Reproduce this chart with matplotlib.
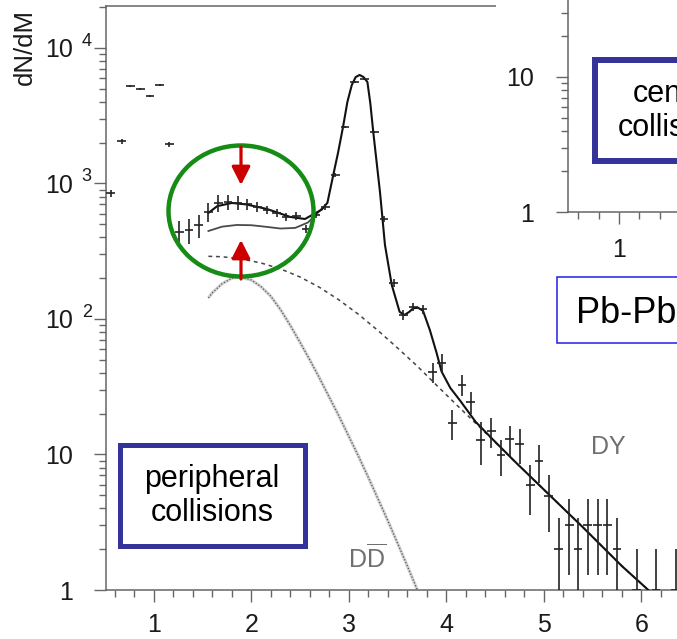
"""
Dimuon invariant mass spectrum, peripheral Pb-Pb collisions,
with the inset corner of the central-collision panel.
"""

import matplotlib
matplotlib.use('Agg')
import matplotlib.pyplot as plt
from matplotlib.patches import Rectangle, Ellipse, FancyArrowPatch
from matplotlib.ticker import FixedLocator, MultipleLocator, LogLocator, NullFormatter

plt.rcParams['font.family'] = ['Liberation Sans', 'DejaVu Sans']
plt.rcParams['mathtext.fontset'] = 'custom'
plt.rcParams['mathtext.rm'] = 'Liberation Sans'

# ─── DATA ─────────────────────────────────────────────────────────────────────
mass = [0.56, 0.67, 0.76, 0.86, 0.96, 1.06, 1.16,
        1.26, 1.36, 1.46, 1.56, 1.66, 1.76, 1.86, 1.96, 2.06, 2.16,
        2.26, 2.36, 2.46, 2.56, 2.66, 2.76, 2.86, 2.96, 3.06, 3.16,
        3.26, 3.36, 3.46, 3.56, 3.66, 3.76, 3.86, 3.95, 4.06, 4.16,
        4.25, 4.35, 4.46, 4.56, 4.65, 4.75, 4.86, 4.95, 5.05, 5.15,
        5.26, 5.35, 5.45, 5.55, 5.65, 5.75, 5.95, 6.15, 6.35]
counts = [850, 2050, 5250, 5000, 4450, 5350, 1950,
          439, 454, 494, 616, 718, 730, 718, 706, 671, 637,
          605, 566, 576, 462, 590, 671, 1155, 2610, 5610, 5900,
          2400, 547, 184, 107, 123, 118, 40.6, 47.3, 17.1, 32.6,
          24.4, 12.8, 14.9, 9.9, 13.0, 11.9, 6.0, 9.0, 4.9, 2.0,
          3.0, 2.0, 3.0, 3.0, 3.0, 2.0, 1.0, 1.0, 1.0]
count_err = [50, 80, 80, 80, 80, 80, 80,
             90, 95, 95, 100, 100, 95, 85, 65, 55, 45,
             40, 40, 35, 30, 30, 30, 35, 60, 90, 90,
             55, 25, 12, 9, 9, 9, 7, 7.5, 4.2, 5.7,
             4.6, 4.5, 3.7, 3.0, 3.2, 3.4, 2.4, 2.8, 2.2, 1.4,
             1.7, 1.4, 1.7, 1.7, 1.7, 1.4, 1.0, 1.0, 1.0]
half_bin = 0.045

# total fit (upper solid curve)
fit_mass = [1.56, 1.65, 1.80, 1.95, 2.16, 2.40, 2.55, 2.65, 2.72, 2.78,
            2.84, 2.89, 2.94, 2.985, 3.03, 3.07, 3.11, 3.15, 3.19, 3.22,
            3.25, 3.32, 3.37, 3.44, 3.52, 3.57, 3.62, 3.66, 3.71, 3.76,
            3.83, 3.90, 3.95, 4.04, 4.14, 4.30, 4.50, 4.70, 5.00, 5.40,
            5.80, 6.07]
fit_total = [606, 680, 718, 700, 648, 566, 547, 600, 640, 720,
             1155, 1700, 2610, 4000, 5330, 6100, 6320, 6100, 5610, 3900,
             2400, 851, 352, 178, 113, 107, 113, 120, 121, 115,
             83, 56, 41, 31, 25, 17.4, 12.4, 8.9, 5.5, 2.9,
             1.5, 1.0]

# expected sources without the excess (lower solid curve)
exp_mass = [1.56, 1.70, 1.85, 2.00, 2.16, 2.30, 2.45, 2.58, 2.66, 2.72]
exp_sum = [446, 480, 494, 492, 478, 465, 470, 515, 585, 650]

# Drell-Yan (dashed)
dy_mass = [1.56, 1.70, 1.90, 2.10, 2.30, 2.50, 2.70, 2.90, 3.10, 3.30,
           3.50, 3.70, 3.90, 4.10, 4.30, 4.50, 4.70, 5.00, 5.40, 5.80, 6.07]
dy_val = [290, 288, 277, 259, 234, 204, 171, 138, 108, 82,
          61, 45, 32.4, 23.4, 17, 12.3, 8.9, 5.5, 2.9, 1.5, 1.0]

# open charm DDbar (dotted)
dd_mass = [1.56, 1.60, 1.70, 1.80, 1.88, 2.00, 2.10, 2.20, 2.30, 2.40, 2.50,
           2.60, 2.70, 2.80, 2.90, 3.00, 3.10, 3.20, 3.30, 3.40, 3.50, 3.60, 3.70]
dd_val = [143, 156, 182, 200, 204, 194, 173, 147, 117, 89.5, 67.1,
          49.8, 36.5, 26.4, 19.1, 13.6, 9.66, 6.76, 4.68, 3.24, 2.21, 1.50, 1.01]

x_ticks = [1, 2, 3, 4, 5, 6]
y_ticks = [1, 10, 100, 1000, 10000]
y_tick_labels = ['1', '10', '10', '10', '10']
y_exponents = {100: '2', 1000: '3', 10000: '4'}

W, H = 677, 639
AX_GREY = '#666666'
TXT = '#1a1a1a'


def fig_xy(px, py):
    """Image pixel (top-left origin) -> figure fraction."""
    return px / W, 1 - py / H


def style_axis(ax):
    for side in ('top', 'right', 'left', 'bottom'):
        ax.spines[side].set_color(AX_GREY)
        ax.spines[side].set_linewidth(1.1)
    ax.spines['right'].set_visible(False)
    ax.tick_params(which='both', direction='out', color=AX_GREY, width=1,
                   labelcolor=TXT, labelsize=18, top=False, right=False)
    ax.tick_params(which='major', length=8.6)
    ax.tick_params(which='minor', length=5)
    ax.tick_params(axis='x', pad=8)
    ax.tick_params(axis='y', pad=15)


fig = plt.figure(figsize=(W / 100, H / 100), dpi=100)

# ─── MAIN PANEL ──────────────────────────────────────────────────────────────
ax = fig.add_axes([106 / W, 1 - 590 / H, (700 - 106) / W, (590 - 6) / H], zorder=1)
ax.set_yscale('log')
ax.set_xlim(0.51, 6.6)
ax.set_ylim(1, 20400)
style_axis(ax)
ax.xaxis.set_major_locator(FixedLocator(x_ticks))
ax.xaxis.set_minor_locator(MultipleLocator(0.2))
ax.set_xticklabels([str(t) for t in x_ticks])
ax.yaxis.set_major_locator(FixedLocator(y_ticks))
ax.set_yticklabels(y_tick_labels)
ax.yaxis.set_minor_locator(LogLocator(base=10, subs=range(2, 10)))
ax.yaxis.set_minor_formatter(NullFormatter())

for val, exp in y_exponents.items():
    ax.annotate(exp, xy=(0, val), xycoords=ax.get_yaxis_transform(),
                xytext=(-17.5, 5), textcoords='offset points',
                ha='left', va='center', fontsize=13, color=TXT)

ax.plot(dd_mass, dd_val, color='#d2d2d2', lw=2.3, solid_capstyle='butt', zorder=2)
ax.plot(dd_mass, dd_val, color='#555555', lw=0.9, ls=(0, (1, 1.5)), zorder=2)
ax.plot(dy_mass, dy_val, color='#444444', lw=1.1, ls=(0, (2.5, 2.5)), zorder=2)
ax.plot(exp_mass, exp_sum, color='#4a4a4a', lw=1.3, zorder=3)
ax.plot(fit_mass, fit_total, color='#111111', lw=1.5, zorder=3)
ax.errorbar(mass, counts, yerr=count_err, xerr=half_bin, fmt='none',
            ecolor='#222222', elinewidth=1.2, capsize=0, zorder=4)

ax.text(5.66, 11.4, 'DY', color='#707070', fontsize=18, ha='center', va='center')
ax.text(3.19, 1.72, r'D$\overline{\mathregular{D}}$', color='#707070',
        fontsize=18, ha='center', va='center')

fig.text(25 / W, 1 - 47 / H, 'dN/dM', rotation=90, ha='center', va='center',
         fontsize=18.5, color=TXT)

# ─── INSET (corner of the central-collision panel) ──────────────────────────
fig.add_artist(Rectangle(fig_xy(496, 265), (W - 496) / W + 0.05, 265 / H + 0.05,
                         transform=fig.transFigure, facecolor='white',
                         edgecolor='none', zorder=2))
axi = fig.add_axes([568 / W, 1 - 212 / H, (800 - 568) / W, 222 / H], zorder=3)
axi.set_yscale('log')
axi.set_xlim(0.5, 0.5 + (800 - 568) / 101.7)
axi.set_ylim(1, 10 ** (222 / 135))
style_axis(axi)
axi.spines['top'].set_visible(False)
axi.tick_params(axis='y', pad=16)
axi.tick_params(axis='x', pad=10)
axi.xaxis.set_major_locator(FixedLocator([1, 2]))
axi.xaxis.set_minor_locator(MultipleLocator(0.2))
axi.set_xticklabels(['1', '2'])
axi.yaxis.set_major_locator(FixedLocator([1, 10]))
axi.set_yticklabels(['1', '10'])
axi.yaxis.set_minor_locator(LogLocator(base=10, subs=range(2, 10)))
axi.yaxis.set_minor_formatter(NullFormatter())

# ─── ANNOTATION BOXES ────────────────────────────────────────────────────────
fig.add_artist(Rectangle(fig_xy(119.5, 545.5), 185 / W, 101 / H,
                         transform=fig.transFigure, facecolor='white',
                         edgecolor='#333399', lw=3.6, zorder=5))
fig.text(212 / W, 1 - 496 / H, 'peripheral\ncollisions', ha='center', va='center',
         ma='center', fontsize=22, color='black', zorder=6)

fig.add_artist(Rectangle(fig_xy(595, 161), 200 / W, 101 / H,
                         transform=fig.transFigure, facecolor='white',
                         edgecolor='#333399', lw=4.3, zorder=5))
fig.text(679 / W, 1 - 111 / H, 'central\ncollisions', ha='center', va='center',
         ma='center', fontsize=22, color='black', zorder=6)

fig.add_artist(Rectangle(fig_xy(557, 343), 200 / W, 66 / H,
                         transform=fig.transFigure, facecolor='white',
                         edgecolor='#1f1fe6', lw=1.1, zorder=5))
fig.text(576 / W, 1 - 323 / H, 'Pb-Pb', ha='left', va='baseline',
         fontsize=26, color='black', zorder=6)

# green circle and red arrows marking the excess
fig.add_artist(Ellipse(fig_xy(241, 211), 145 / W, 131 / H, transform=fig.transFigure,
                       facecolor='none', edgecolor='#168c16', lw=3.2, zorder=6))
for tail, tip in (((241, 147), (241, 185)), ((241, 279), (241, 240))):
    fig.add_artist(FancyArrowPatch(fig_xy(*tail), fig_xy(*tip),
                                   transform=fig.transFigure,
                                   arrowstyle='-|>,head_length=0.55,head_width=0.28',
                                   mutation_scale=20, lw=2.3, color='#cc0000',
                                   shrinkA=0, shrinkB=0, zorder=7))

fig.savefig('out.png', dpi=100)
